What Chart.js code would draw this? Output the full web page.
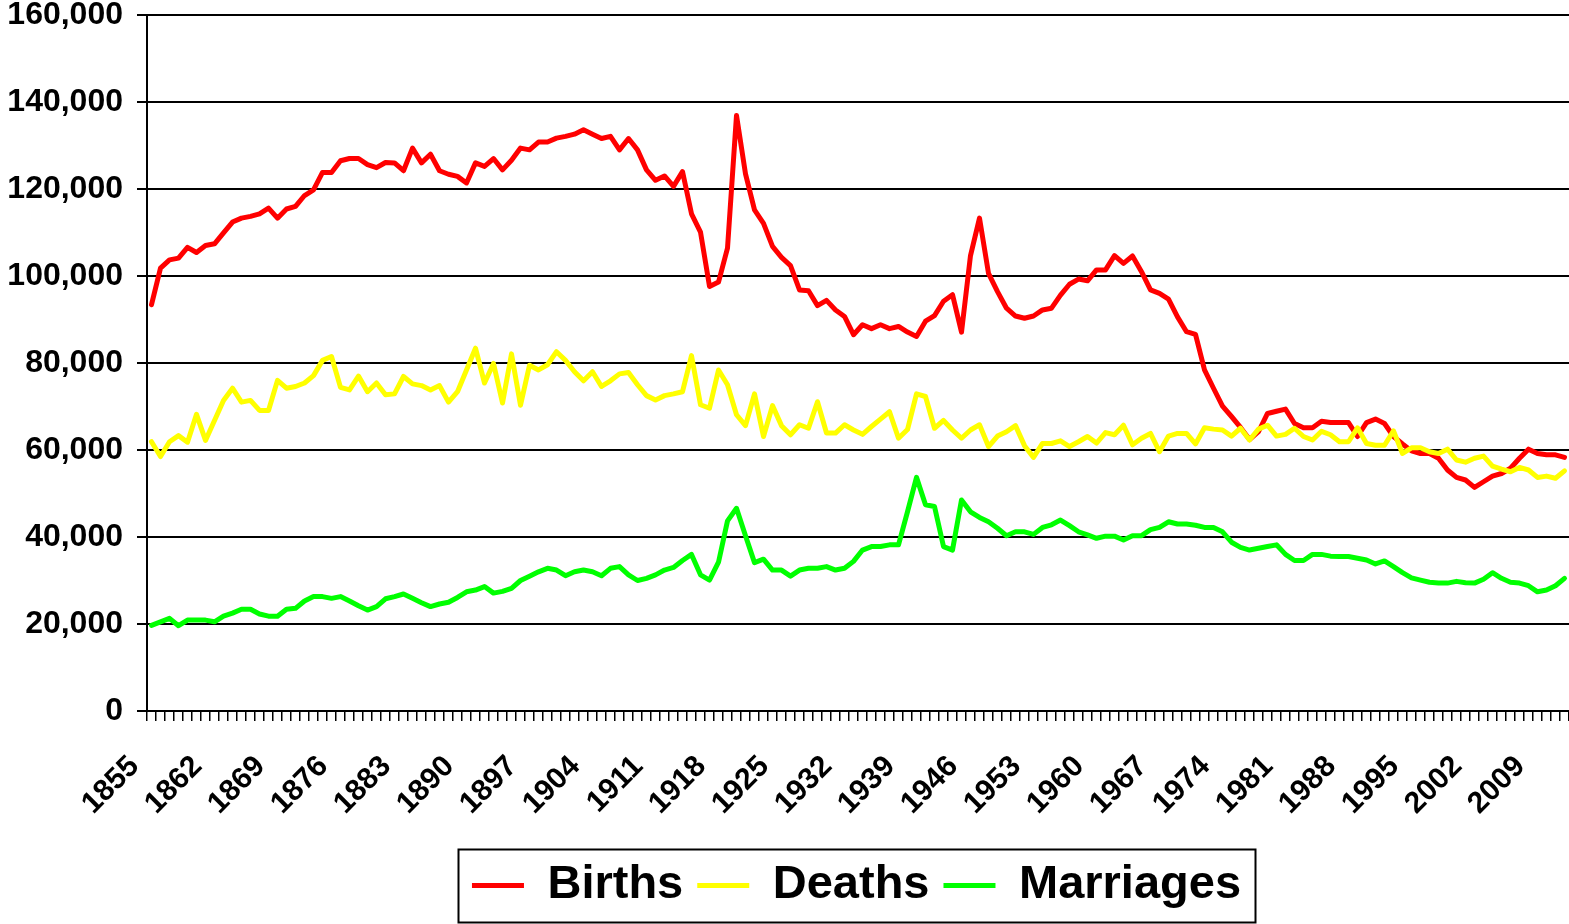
<!DOCTYPE html>
<html>
<head>
<meta charset="utf-8">
<title>Births, Deaths and Marriages 1855-2012</title>
<script src="https://cdn.jsdelivr.net/npm/chart.js@4.4.1/dist/chart.umd.min.js"></script>
<style>
  html, body { margin: 0; padding: 0; background: #fff; }
  #wrap { width: 1569px; height: 924px; }
</style>
</head>
<body>
<div id="wrap"><canvas id="chart"></canvas></div>
<script>
// --- Data ---
const firstYear = 1855;
const lastYear = 2012;
const years = [];
for (let y = firstYear; y <= lastYear; y++) years.push(String(y));
const labelEvery = 7; // a label every 7th year: 1855, 1862, ... 2009

const births = [
  93400, 101800, 103700, 104100, 106600, 105400, 107000, 107400, 109900, 112400,
  113300, 113700, 114300, 115600, 113300, 115400, 116000, 118500, 119800, 123800,
  123800, 126500, 127000, 127000, 125600, 124900, 126100, 126000, 124200, 129400,
  126000, 128000, 124200, 123400, 122900, 121400, 126000, 125200, 127000, 124400,
  126600, 129400, 129000, 130800, 130800, 131700, 132100, 132600, 133600, 132600,
  131600, 132100, 129000, 131600, 129000, 124400, 122000, 123000, 120600, 124000,
  114300, 110100, 97600, 98600, 106400, 136900, 123500, 115200, 112100, 106800,
  104300, 102400, 96800, 96600, 93200, 94400, 92200, 90700, 86500, 88800,
  87900, 88800, 87900, 88400, 87100, 86100, 89600, 90900, 94200, 95700,
  87100, 104700, 113300, 100600, 96400, 92600, 90800, 90300, 90800, 92200,
  92600, 95600, 98100, 99300, 98900, 101400, 101400, 104700, 102900, 104600,
  101000, 96800, 96000, 94700, 90600, 87200, 86600, 78400, 74200, 70100,
  67700, 65200, 62400, 64200, 68400, 68900, 69400, 66100, 65100, 65100,
  66600, 66300, 66300, 66300, 63100, 66300, 67100, 66100, 63100, 61400,
  59800, 59200, 59200, 58100, 55400, 53700, 53100, 51400, 52700, 54000,
  54600, 55800, 58100, 60200, 59200, 58900, 58900, 58300
];

const deaths = [
  61900, 58500, 61900, 63300, 61800, 68200, 62200, 66800, 71400, 74200,
  71000, 71400, 69100, 69100, 76000, 74200, 74600, 75400, 77100, 80600,
  81500, 74400, 73800, 77000, 73400, 75400, 72700, 72900, 76900, 75200,
  74800, 73800, 74800, 71000, 73400, 78400, 83400, 75400, 79900, 70800,
  82100, 70300, 79500, 78400, 79600, 82600, 80600, 78000, 75900, 78000,
  74600, 75900, 77500, 77800, 75000, 72500, 71500, 72500, 72900, 73400,
  81700, 70400, 69600, 78400, 75000, 68100, 65600, 72900, 63100, 70200,
  65600, 63500, 65800, 65000, 71100, 63900, 63900, 65800, 64600, 63600,
  65400, 67100, 68800, 62700, 64700, 72900, 72300, 65000, 66800, 64600,
  62700, 64600, 65800, 60800, 63200, 64200, 65600, 61000, 58300, 61500,
  61500, 62100, 60800, 61900, 63100, 61600, 64000, 63500, 65700, 61200,
  62700, 63800, 59600, 63200, 63800, 63800, 61400, 65100, 64800, 64600,
  63200, 65000, 62300, 64800, 65700, 63200, 63600, 65000, 63100, 62300,
  64300, 63500, 61900, 61900, 65100, 61500, 61100, 61100, 64400, 59200,
  60500, 60500, 59600, 59200, 60200, 57700, 57200, 58100, 58600, 56300,
  55600, 55000, 56000, 55400, 53700, 54000, 53500, 55200
];

const marriages = [
  19700, 20500, 21300, 19600, 20900, 20900, 20900, 20500, 21800, 22500,
  23400, 23400, 22300, 21800, 21800, 23400, 23600, 25300, 26300, 26300,
  25900, 26300, 25300, 24200, 23200, 24000, 25800, 26300, 26900, 25900,
  24900, 24000, 24600, 25000, 26100, 27400, 27800, 28600, 27100, 27500,
  28200, 30000, 31000, 32000, 32800, 32400, 31100, 32000, 32400, 32000,
  31100, 32800, 33200, 31300, 30000, 30500, 31300, 32400, 33000, 34600,
  36000, 31300, 30100, 34200, 43700, 46600, 40300, 34100, 34900, 32400,
  32400, 31000, 32400, 32800, 32800, 33200, 32400, 32800, 34400, 37000,
  37800, 37800, 38200, 38200, 45800, 53700, 47400, 47000, 37800, 37000,
  48500, 45800, 44500, 43500, 42000, 40300, 41200, 41200, 40600, 42200,
  42800, 43900, 42600, 41200, 40500, 39700, 40200, 40200, 39300, 40300,
  40300, 41700, 42200, 43500, 43000, 43000, 42700, 42200, 42200, 41200,
  38800, 37600, 37000, 37400, 37800, 38200, 36000, 34600, 34600, 36000,
  36000, 35600, 35500, 35500, 35100, 34700, 33800, 34500, 33200, 31800,
  30600, 30100, 29600, 29400, 29400, 29800, 29500, 29400, 30300, 31800,
  30500, 29600, 29400, 28800, 27400, 27800, 28800, 30500
];

const yMin = 0;
const yMax = 160000;
const yStep = 20000;

// --- Styling ---
const FONT = "'Liberation Sans', Arial, Helvetica, sans-serif";

// Рамка вокруг легенды + сдвиг легенды вправо (как в исходной картинке)
const legendFrame = {
  id: 'legendFrame',
  afterLayout(chart) {
    const lg = chart.legend;
    lg.left += 72;
    lg.right += 72;
  },
  afterDraw(chart) {
    const lg = chart.legend;
    const pad = lg.options.labels.padding;
    const fontSize = lg.options.labels.font.size;
    const lw = lg.lineWidths[0];
    const start = (lg.left + pad + lg.right - lw) / 2;
    const x0 = start - 14;
    const x1 = start + lw - pad + 14;
    const yc = lg.top + pad + fontSize / 2;
    const ctx = chart.ctx;
    ctx.save();
    ctx.strokeStyle = '#000';
    ctx.lineWidth = 2;
    ctx.strokeRect(Math.round(x0) + 0.5, Math.round(yc - 37) + 0.5, Math.round(x1 - x0), 73);
    ctx.restore();
  }
};

const ctx = document.getElementById('chart').getContext('2d');
const chart = new Chart(ctx, {
  type: 'line',
  data: {
    labels: years,
    datasets: [
      { label: 'Births', data: births, borderColor: '#ff0000', backgroundColor: '#ff0000', order: 3 },
      { label: 'Deaths', data: deaths, borderColor: '#ffff00', backgroundColor: '#ffff00', order: 2 },
      { label: 'Marriages', data: marriages, borderColor: '#00ff00', backgroundColor: '#00ff00', order: 1 }
    ]
  },
  options: {
    responsive: true,
    maintainAspectRatio: false,
    animation: false,
    devicePixelRatio: 1,
    layout: { padding: { top: 15, right: 0, bottom: 5, left: 0 } },
    elements: {
      line: { borderWidth: 5, tension: 0, borderJoinStyle: 'round', borderCapStyle: 'round', fill: false },
      point: { radius: 0, hoverRadius: 0 }
    },
    plugins: {
      tooltip: { enabled: false },
      legend: {
        position: 'bottom',
        labels: {
          color: '#000',
          font: { family: FONT, size: 47, weight: 'bold' },
          boxWidth: 52,
          boxHeight: 5,
          padding: 14,
          sort: (a, b) => a.datasetIndex - b.datasetIndex,
          generateLabels: (c) => Chart.defaults.plugins.legend.labels.generateLabels(c).map(item => {
            item.lineWidth = 0;
            item.fillStyle = item.strokeStyle;
            return item;
          })
        }
      }
    },
    scales: {
      x: {
        offset: true,
        grid: { offset: true, drawOnChartArea: false, color: '#000', lineWidth: 1.5, tickLength: 10 },
        border: { display: true, color: '#000', width: 2 },
        ticks: {
          autoSkip: false,
          minRotation: 45,
          maxRotation: 45,
          padding: 28,
          labelOffset: -17,
          color: '#000',
          font: { family: FONT, size: 30, weight: 'bold' },
          callback: (val, index) => (index % labelEvery === 0 ? years[index] : '')
        },
        afterFit: (scale) => {
          scale.height = 137;
          scale.paddingLeft = 0;
          scale.paddingRight = 0;
        }
      },
      y: {
        min: yMin,
        max: yMax,
        grid: { color: '#000', lineWidth: 2, tickLength: 10 },
        border: { display: true, color: '#000', width: 2 },
        ticks: {
          stepSize: yStep,
          padding: 14,
          color: '#000',
          font: { family: FONT, size: 32, weight: 'bold' },
          callback: (v) => v.toLocaleString('en-US')
        },
        afterFit: (scale) => {
          scale.width = 147;
          scale.paddingTop = 0;
          scale.paddingBottom = 0;
        }
      }
    }
  },
  plugins: [legendFrame]
});
</script>
</body>
</html>
